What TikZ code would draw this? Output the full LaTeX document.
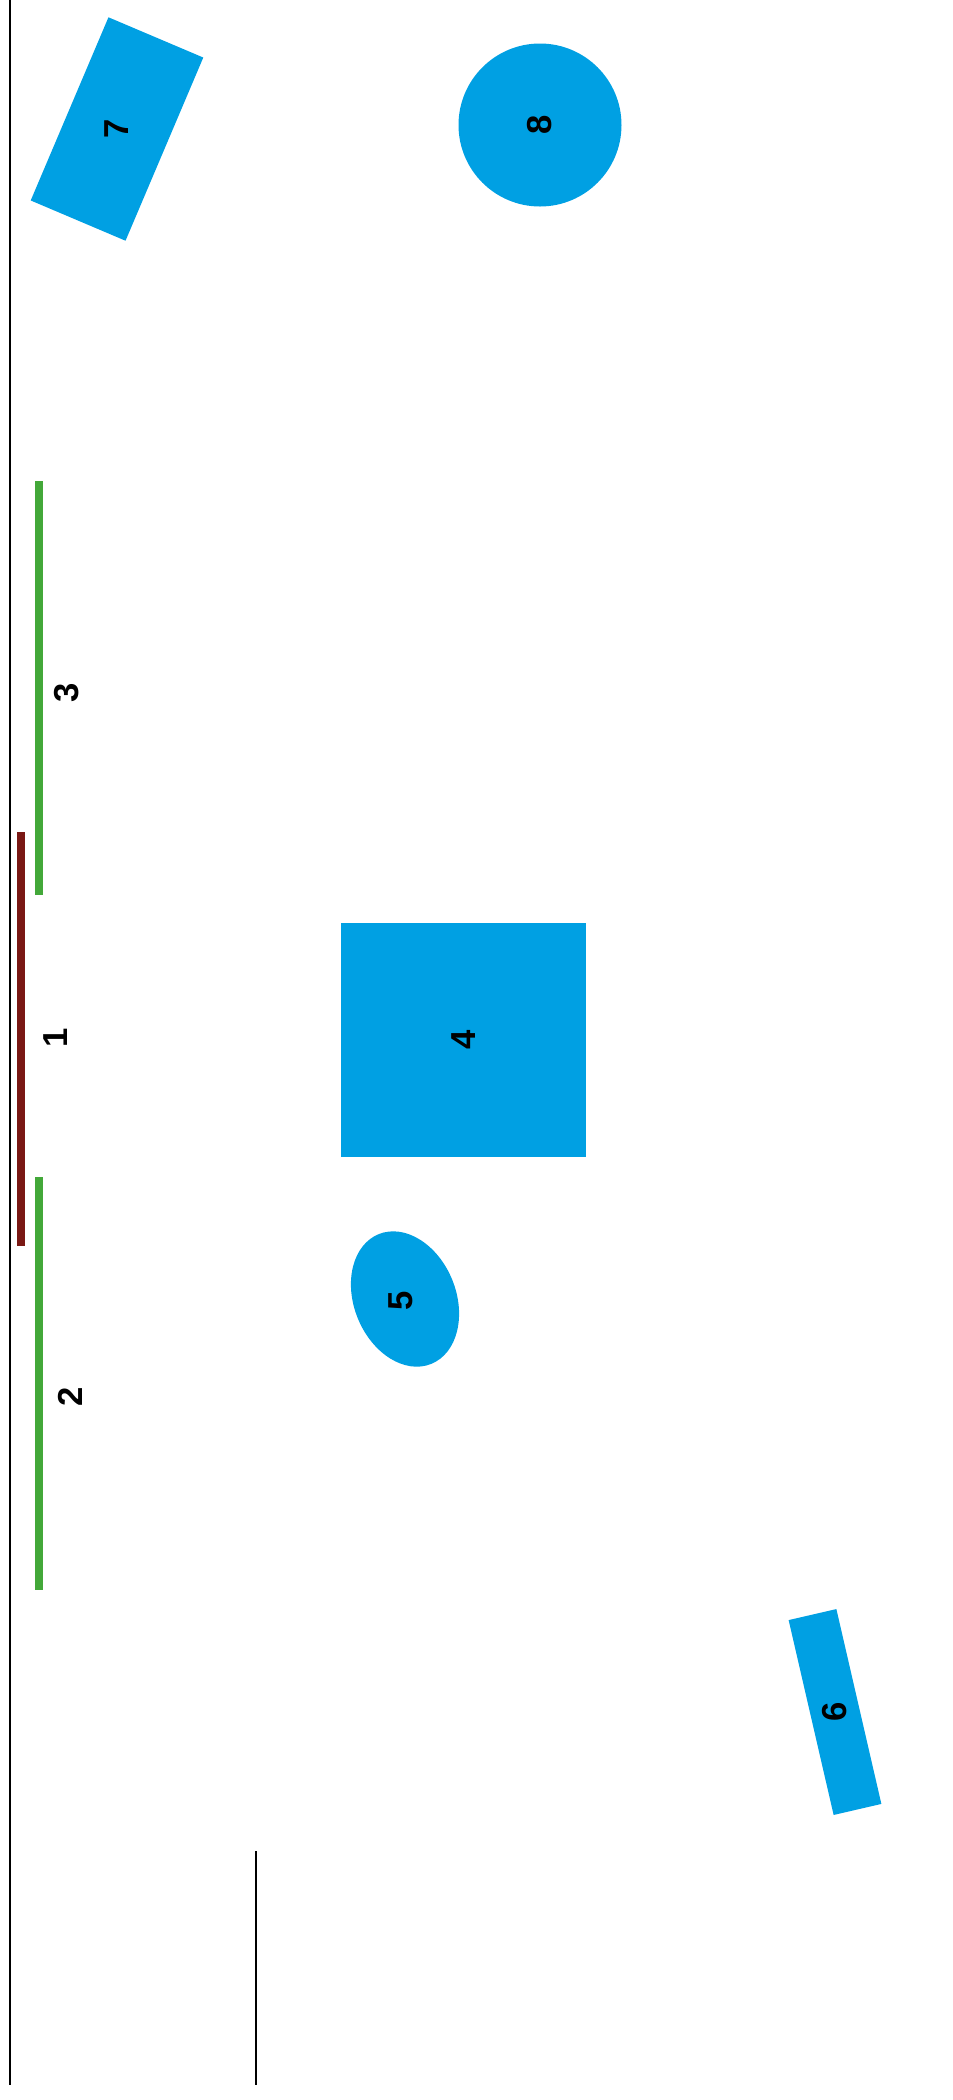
\documentclass[tikz,border=0pt]{standalone}
\usepackage{fontspec}
\setmainfont{Liberation Sans}
\usepackage{tikz}
\usetikzlibrary{shapes.geometric}
\usepackage{xcolor}
\definecolor{shapeblue}{RGB}{0, 160, 227}
\definecolor{bargreen}{RGB}{67, 168, 57}
\definecolor{barred}{RGB}{122, 24, 20}

\tikzset{
  numlabel/.style={font=\fontsize{26}{30}\selectfont\bfseries, rotate=90, inner sep=0pt},
  blueshape/.style={fill=shapeblue, draw=none, inner sep=0pt, outer sep=0pt},
}

\begin{document}
\begin{tikzpicture}[x=0.75pt, y=-0.75pt]
  \useasboundingbox (0,0) rectangle (953,2100);
  % rules
  \draw[line width=1.7pt] (10,0) -- (10,2085);
  \draw[line width=1.7pt] (256,1851) -- (256,2085);
  \draw[barred, line width=6pt] (21,832) -- (21,1246);
  \draw[bargreen, line width=6pt] (39,481) -- (39,895);
  \draw[bargreen, line width=6pt] (39,1177) -- (39,1590);
  \node[numlabel] (lab1) at (55.5,1038) {1};
  \node[numlabel] (lab2) at (70,1397) {2};
  \node[numlabel] (lab3) at (67,693) {3};
  % shapes
  \node[blueshape, rectangle, minimum width=149.25pt, minimum height=77.25pt, rotate=67] (shape7) at (117,129) {};
  \node[numlabel] (lab7) at (shape7) {7};
  \node[blueshape, circle, minimum size=122.25pt] (shape8) at (540,125) {};
  \node[numlabel] (lab8) at (shape8) {8};
  \node[blueshape, rectangle, minimum width=183.75pt, minimum height=175.5pt] (shape4) at (463.5,1040) {};
  \node[numlabel] (lab4) at (shape4) {4};
  \node[blueshape, ellipse, minimum width=76.5pt, minimum height=105pt, rotate=22] (shape5) at (405,1299) {};
  \node[numlabel] (lab5) at (401,1301) {5};
  \node[blueshape, rectangle, minimum width=150pt, minimum height=36.75pt, rotate=-77] (shape6) at (835,1712) {};
  \node[numlabel] (lab6) at (shape6) {6};
\end{tikzpicture}
\end{document}
